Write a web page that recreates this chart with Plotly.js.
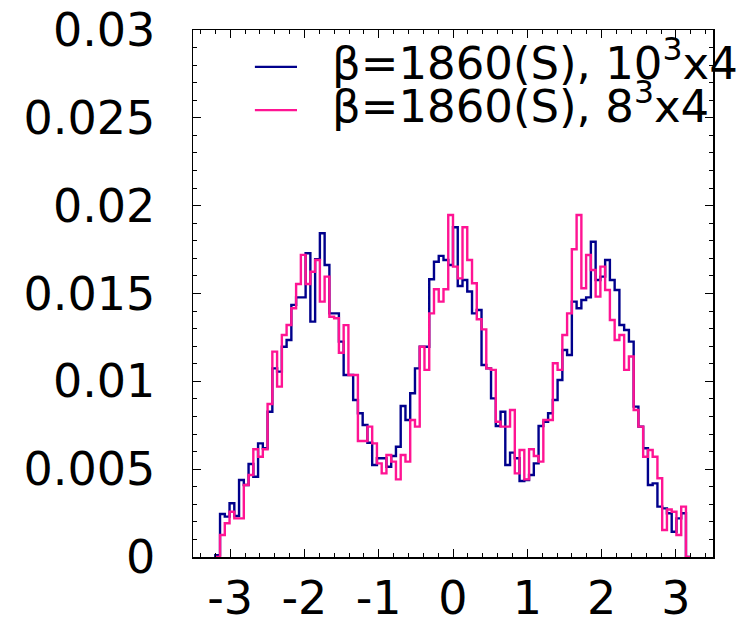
<!DOCTYPE html>
<html>
<head>
<meta charset="utf-8">
<script src="https://cdn.plot.ly/plotly-3.0.1.min.js"></script>
<style>
  html, body { margin: 0; padding: 0; background: #ffffff; }
  #chart { width: 747px; height: 627px; }
</style>
</head>
<body>
<div id="chart"></div>
<script>
// Histogram of the phase, 100 bins on [-3.2, 3.2]
const binLow = -3.2;
const binHigh = 3.2;
const nBins = 100;

// beta = 1860 (S), 10^3 x 4 lattice
const hist10 = [
  0.0001, 0.00245, 0.0023, 0.00306, 0.00233, 0.00438, 0.0041, 0.00529, 0.00457, 0.00647,
  0.00619, 0.00827, 0.01074, 0.01055, 0.01197, 0.01235, 0.01435, 0.01478, 0.01478, 0.01729,
  0.0134, 0.01695, 0.01843, 0.01662, 0.01387, 0.01387, 0.01226, 0.01036, 0.01036, 0.00894,
  0.00818, 0.00751, 0.0065, 0.00524, 0.00562, 0.00562, 0.00514, 0.00575, 0.00628, 0.0086,
  0.0078, 0.00932, 0.01074, 0.01197, 0.01197, 0.01581, 0.01681, 0.01714, 0.01691, 0.01662,
  0.01877, 0.01543, 0.01577, 0.01511, 0.01387, 0.01406, 0.01093, 0.01074, 0.00903, 0.00746,
  0.00827, 0.00524, 0.00594, 0.00562, 0.00433, 0.00438, 0.00467, 0.00533, 0.00746, 0.0077,
  0.00818, 0.00894, 0.01008, 0.01178, 0.0115, 0.01454, 0.01416, 0.01463, 0.01478, 0.01795,
  0.01577, 0.01596, 0.01691, 0.01577, 0.0152, 0.01321, 0.01292, 0.01226, 0.00856, 0.00742,
  0.00619, 0.0041, 0.00419, 0.00287, 0.00277, 0.00249, 0.00144, 0.0022, 0.00249, 0
];

// beta = 1860 (S), 8^3 x 4 lattice
const hist8 = [
  0, 0.00125, 0.00192, 0.00258, 0.0022, 0.0022, 0.0041, 0.00467, 0.00613, 0.00571,
  0.00613, 0.00871, 0.01169, 0.0097, 0.01264, 0.01321, 0.01416, 0.01554, 0.0172, 0.01554,
  0.01624, 0.01691, 0.01454, 0.01596, 0.01368, 0.01359, 0.01163, 0.0132, 0.01036, 0.01036,
  0.0066, 0.0066, 0.00742, 0.00647, 0.00533, 0.00476, 0.00581, 0.00543, 0.00442, 0.00581,
  0.00543, 0.0078, 0.00742, 0.01197, 0.01065, 0.01387, 0.01524, 0.01454, 0.01524, 0.01947,
  0.01653, 0.01586, 0.01877, 0.01691, 0.01558, 0.01353, 0.01296, 0.01074, 0.01065, 0.0077,
  0.00742, 0.00742, 0.00837, 0.00476, 0.00609, 0.00442, 0.00613, 0.00575, 0.00543, 0.0078,
  0.0078, 0.01103, 0.01065, 0.01264, 0.01387, 0.01752, 0.01947, 0.0153, 0.01719, 0.01634,
  0.01482, 0.01653, 0.0152, 0.01349, 0.01235, 0.01264, 0.01065, 0.01141, 0.00837, 0.00742,
  0.00571, 0.00609, 0.00571, 0.00448, 0.00154, 0.0027, 0.00258, 0.00125, 0.00287, 0
];

const seriesNames = ['β=1860(S), 10<sup>3</sup>x4', 'β=1860(S), 8<sup>3</sup>x4'];
const seriesColors = ['#00008c', '#ff1493'];

const xTickVals = [-3, -2, -1, 0, 1, 2, 3];
const xTickText = ['-3', '-2', '-1', '0', '1', '2', '3'];
const yTickVals = [0, 0.005, 0.01, 0.015, 0.02, 0.025, 0.03];
const yTickText = ['0', '0.005', '0.01', '0.015', '0.02', '0.025', '0.03'];

// step outline of a histogram: rise at the first edge, fall at the last
function stepTrace(counts, name, color) {
  const w = (binHigh - binLow) / nBins;
  const xs = [binLow];
  const ys = [0];
  for (let i = 0; i < counts.length; i++) {
    xs.push(binLow + i * w);
    ys.push(counts[i]);
  }
  xs.push(binHigh);
  ys.push(0);
  return {
    x: xs, y: ys, type: 'scatter', mode: 'lines', name: name,
    line: { shape: 'hv', color: color, width: 2.4 },
    hoverinfo: 'skip', showlegend: false
  };
}

const traces = [
  stepTrace(hist10, seriesNames[0], seriesColors[0]),
  stepTrace(hist8, seriesNames[1], seriesColors[1])
];

const font = { family: 'DejaVu Sans', size: 46, color: '#000000' };

// hand-placed legend: sample lines and labels in paper coordinates
const legendLineY = [0.93, 0.848];
const legendTextY = [0.943, 0.861];
const shapes = legendLineY.map((yy, k) => ({
  type: 'line', xref: 'paper', yref: 'paper',
  x0: 0.119, x1: 0.2, y0: yy, y1: yy,
  line: { color: seriesColors[k], width: 2.4 }
}));
const annotations = legendTextY.map((yy, k) => ({
  xref: 'paper', yref: 'paper', x: 0.2635, y: yy,
  xanchor: 'left', yanchor: 'middle', showarrow: false,
  text: seriesNames[k], font: { family: 'DejaVu Sans', size: 45, color: '#000000' }
}));

const axisCommon = {
  showgrid: false, zeroline: false,
  showline: true, linecolor: '#000000', linewidth: 1.5, mirror: 'allticks',
  ticks: 'inside', ticklen: 8, tickwidth: 1, tickcolor: '#000000',
  tickmode: 'array', tickfont: font
};

const layout = {
  width: 747, height: 627,
  margin: { l: 193, r: 34, t: 30, b: 70, pad: 0 },
  paper_bgcolor: '#ffffff', plot_bgcolor: '#ffffff',
  font: font,
  xaxis: Object.assign({}, axisCommon, {
    range: [-3.5, 3.5], tickvals: xTickVals, ticktext: xTickText,
    ticklabelstandoff: 0,
    minor: { dtick: 0.2, tick0: 0, ticks: 'inside', ticklen: 4, tickcolor: '#000000', tickwidth: 1 }
  }),
  yaxis: Object.assign({}, axisCommon, {
    range: [0, 0.03], tickvals: yTickVals, ticktext: yTickText,
    ticklabelstandoff: 27,
    minor: { dtick: 0.001, tick0: 0, ticks: 'inside', ticklen: 4, tickcolor: '#000000', tickwidth: 1 }
  }),
  shapes: shapes,
  annotations: annotations
};

Plotly.newPlot('chart', traces, layout, { staticPlot: true, displayModeBar: false });
</script>
</body>
</html>
